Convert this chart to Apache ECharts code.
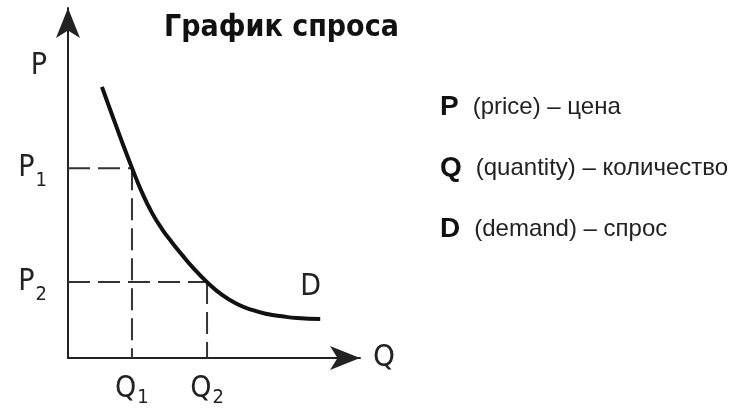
<!DOCTYPE html>
<html><head><meta charset="utf-8">
<script src="https://cdn.jsdelivr.net/npm/echarts@6/dist/echarts.min.js"></script>
<style>html,body{margin:0;padding:0;background:#fff}#c{width:735px;height:408px}</style>
</head><body><div id="c"></div>
<script>
const chartTitle = 'График спроса';
const demandQ = [1.22, 1.58, 1.94, 2.30, 2.66, 3.02, 3.38, 3.74, 4.10, 4.46, 5.00, 5.54, 6.08, 6.62, 7.16, 7.70, 8.24, 9.07];
const demandP = [8.07, 7.25, 6.44, 5.66, 4.93, 4.32, 3.84, 3.44, 3.07, 2.72, 2.26, 1.88, 1.61, 1.43, 1.31, 1.24, 1.19, 1.16];
const qTickValues = [2.3, 5.0];
const qTickSubs = ['1', '2'];
const pTickValues = [5.65, 2.26];
const pTickSubs = ['1', '2'];
const pAxisLabelValue = 8.7;
const xAxisName = 'Q';
const yAxisName = 'P';
const curveName = 'D';
const legendKeys = ['P', 'Q', 'D'];
const legendTexts = ['(price) – цена', '(quantity) – количество', '(demand) – спрос'];

const chart = echarts.init(document.getElementById('c'));
const labelFont = "'DejaVu Sans Condensed', 'Noto Sans', sans-serif";
const sansFont = "'Liberation Sans', Arial, sans-serif";
function subRich(pad) {
  return {
    m: { fontFamily: labelFont, fontSize: 30, color: '#222' },
    s: { fontFamily: labelFont, fontSize: 20, color: '#222', padding: [pad, 0, 0, 1] }
  };
}
const dash = { type: [22, 8], width: 2, color: '#333' };
const guideSeries = [];
qTickValues.forEach((q, i) => {
  const p = pTickValues[i];
  guideSeries.push({ type: 'line', data: [[0, p], [q, p]], symbol: 'none', lineStyle: dash, silent: true, z: 1 });
  guideSeries.push({ type: 'line', data: [[q, p], [q, 0]], symbol: 'none', lineStyle: dash, silent: true, z: 1 });
});

const titles = [{
  text: chartTitle, left: 164, top: 13, padding: 0,
  textStyle: { fontFamily: labelFont, fontWeight: 'bold', fontSize: 30, color: '#111' }
}];
legendKeys.forEach((k, i) => {
  titles.push({
    text: '{b|' + k + '}{r|' + legendTexts[i] + '}',
    left: 440, top: 92 + i * 61, padding: 0,
    textStyle: {
      fontWeight: 'normal',
      rich: {
        b: { fontFamily: sansFont, fontWeight: 'bold', fontSize: 28, color: '#111', lineHeight: 30 },
        r: { fontFamily: sansFont, fontWeight: 'normal', fontSize: 24, color: '#222', lineHeight: 30, padding: [0, 0, 0, 14] }
      }
    }
  });
});

const arrowLine = { show: true, symbol: ['none', 'arrow'], symbolSize: [18, 30], lineStyle: { color: '#222', width: 2 } };

chart.setOption({
  animation: false,
  backgroundColor: '#fff',
  title: titles,
  grid: { left: 68, right: 375, top: 8, bottom: 50, outerBoundsMode: 'none' },
  xAxis: {
    type: 'value', min: 0, max: 10.5,
    name: xAxisName, nameLocation: 'end', nameGap: 13,
    nameTextStyle: { fontFamily: labelFont, fontSize: 31, color: '#222', verticalAlign: 'middle' },
    axisLine: arrowLine,
    axisTick: { show: false },
    splitLine: { show: false },
    axisLabel: {
      customValues: qTickValues, margin: 12,
      formatter: v => { const i = qTickValues.indexOf(v); return '{m|' + xAxisName + '}{s|' + qTickSubs[i] + '}'; },
      rich: subRich(18)
    }
  },
  yAxis: {
    type: 'value', min: 0, max: 10.42,
    axisLine: arrowLine,
    axisTick: { show: false },
    splitLine: { show: false },
    axisLabel: {
      customValues: pTickValues.concat([pAxisLabelValue]), margin: 21,
      formatter: v => {
        if (v === pAxisLabelValue) return '{m|' + yAxisName + '}';
        const i = pTickValues.indexOf(v); return '{m|' + yAxisName + '}{s|' + pTickSubs[i] + '}';
      },
      rich: subRich(26)
    }
  },
  series: guideSeries.concat([{
    type: 'line', name: curveName, smooth: 0.5, symbol: 'none', z: 3,
    data: demandQ.map((q, i) => [q, demandP[i]]),
    lineStyle: { color: '#111', width: 4 },
    endLabel: { show: true, formatter: curveName, offset: [-28, -32], fontFamily: labelFont, fontSize: 30, color: '#222' }
  }])
});
</script></body></html>
